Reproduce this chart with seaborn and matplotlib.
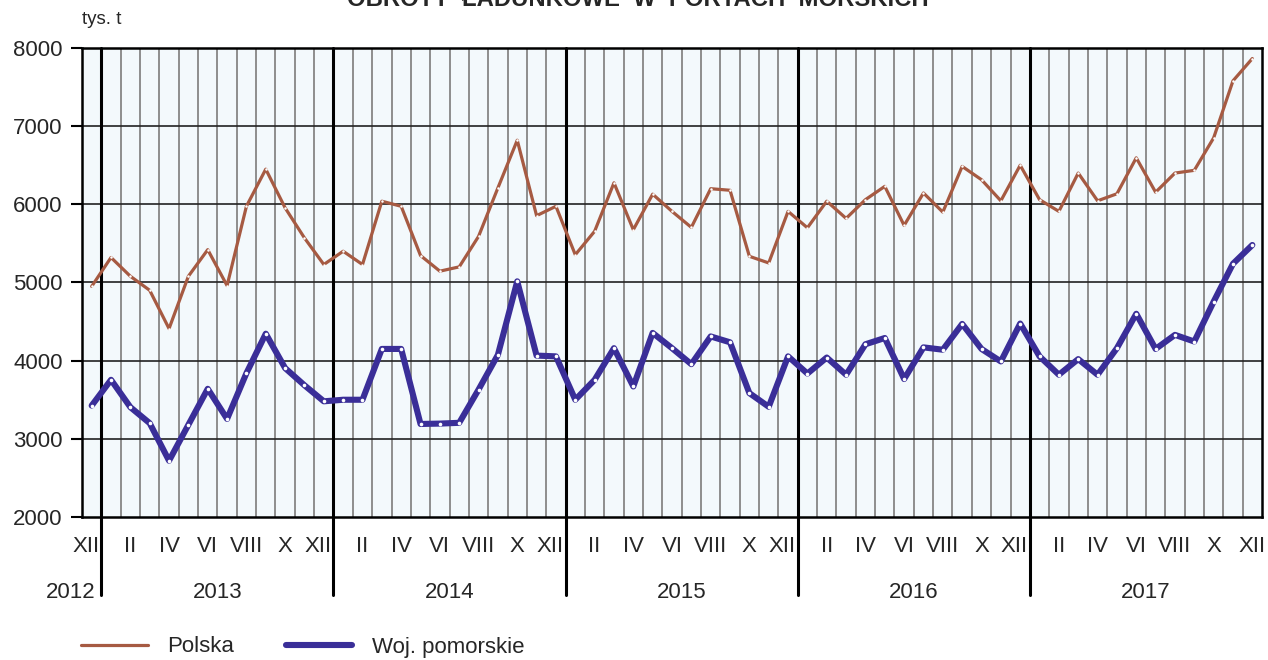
import numpy as np
import pandas as pd
import matplotlib
matplotlib.use("Agg")
import matplotlib.pyplot as plt
import seaborn as sns
from matplotlib.lines import Line2D
from matplotlib.transforms import blended_transform_factory, ScaledTranslation

# ============================
# Data (monthly, XII 2012 - XII 2017, tys. t)
# ============================

polska = [4950, 5320, 5080, 4900, 4410, 5080, 5420, 4960, 5975, 6450, 5955, 5570, 5230,
          5400, 5230, 6040, 5975, 5345, 5145, 5200, 5590, 6210, 6820, 5855, 5975,
          5355, 5655, 6275, 5675, 6130, 5910, 5705, 6200, 6180, 5335, 5250,
          5910, 5700, 6040, 5820, 6060, 6230, 5730, 6145, 5900, 6485, 6315, 6045,
          6500, 6060, 5910, 6400, 6045, 6135, 6595, 6155, 6400, 6435, 6850, 7580, 7865]

pomorskie = [3425, 3755, 3405, 3200, 2720, 3180, 3640, 3255, 3840, 4345, 3905, 3685, 3480,
             3500, 3500, 4150, 4150, 3190, 3195, 3205, 3630, 4075, 5015, 4065, 4055,
             3500, 3755, 4160, 3670, 4355, 4160, 3955, 4310, 4235, 3585, 3410,
             4055, 3835, 4040, 3820, 4210, 4290, 3765, 4170, 4140, 4470, 4150, 3990,
             4475, 4055, 3820, 4020, 3820, 4160, 4600, 4150, 4330, 4245, 4755, 5240, 5480]

roman = ["I", "II", "III", "IV", "V", "VI", "VII", "VIII", "IX", "X", "XI", "XII"]
years = ["2012", "2013", "2014", "2015", "2016", "2017"]
y_ticks = [2000, 3000, 4000, 5000, 6000, 7000, 8000]

series_names = ["Polska", "Woj. pomorskie"]
colors = {"Polska": "#A65A42", "Woj. pomorskie": "#3A2E98"}
widths = {"Polska": 2.3, "Woj. pomorskie": 4.4}
marker_sizes = {"Polska": 1.8, "Woj. pomorskie": 2.6}

title = "OBROTY  ŁADUNKOWE  W  PORTACH  MORSKICH"

# ============================
# Build table
# ============================

n = len(polska)
idx = np.arange(n)
month_no = [(11 + i) % 12 for i in idx]          # 0-based month, first point = XII
year_of = [2012 + (11 + i) // 12 for i in idx]

df = pd.DataFrame({
    "idx": np.concatenate([idx, idx]),
    "value": polska + pomorskie,
    "series": [series_names[0]] * n + [series_names[1]] * n,
})

# ============================
# Plot
# ============================

sns.set_theme(style="white")
plt.rcParams["font.family"] = ["Liberation Sans", "DejaVu Sans"]

fig = plt.figure(figsize=(12.68, 6.60), dpi=100)
ax = fig.add_axes([82 / 1268, 1 - 517 / 660, 1180 / 1268, 469 / 660])
ax.set_facecolor("#F3F9FC")
ax.set_axisbelow(False)

# month grid and year separators
boundaries = [i + 0.5 for i in idx[:-1] if month_no[i] == 11]
for i in idx[:-1]:
    if i + 0.5 not in boundaries:
        ax.axvline(i + 0.5, color="#8e8e8e", lw=1.4, zorder=1)
for b in boundaries:
    ax.axvline(b, ymin=-0.166, ymax=1, color="black", lw=2.2, clip_on=False, zorder=1.2)

for yv in y_ticks[1:-1]:
    ax.axhline(yv, color="#222222", lw=1.2, zorder=1.1)

for name in series_names:
    sub = df[df["series"] == name]
    sns.lineplot(data=sub, x="idx", y="value", ax=ax, color=colors[name], linewidth=widths[name],
                 marker="o", markersize=marker_sizes[name], markerfacecolor="white",
                 markeredgewidth=0, zorder=5, legend=False)

ax.set_xlim(-0.5, n - 0.5)
ax.set_ylim(2000, 8000)
ax.set_yticks(y_ticks)
ax.set_yticklabels([str(v) for v in y_ticks], fontsize=16)
ax.tick_params(axis="y", length=8, width=1.5, color="black", pad=6, direction="out", left=True)

tick_pos = [i for i in idx if month_no[i] % 2 == 1]
ax.set_xticks(tick_pos)
ax.set_xticklabels([roman[month_no[i]] for i in tick_pos], fontsize=16)
ax.tick_params(axis="x", length=0, pad=14)
ax.set_xlabel("")
ax.set_ylabel("")

# nudge the "XII" labels that sit next to a year separator
nudge = ScaledTranslation(-6 / 100, 0, fig.dpi_scale_trans)
for pos, lab in zip(tick_pos, ax.get_xticklabels()):
    if pos + 0.5 in boundaries:
        lab.set_transform(lab.get_transform() + nudge)

for s in ax.spines.values():
    s.set_color("black")
    s.set_linewidth(1.8)

# year labels
trans = blended_transform_factory(ax.transData, ax.transAxes)
for yr in years:
    pos = [i for i in idx if year_of[i] == int(yr)]
    if len(pos) == 1:
        ax.text(pos[0] + 0.2, -0.16, yr, transform=trans, ha="right", va="center", fontsize=16)
    else:
        ax.text(np.mean(pos), -0.16, yr, transform=trans, ha="center", va="center", fontsize=16)

fig.text(82 / 1268, 1 - 20 / 660, "tys. t", ha="left", va="center", fontsize=13.5)
fig.text(0.503, 1 - 6 / 660, title, ha="center", va="baseline", fontsize=17.2, fontweight="bold")

handles = [Line2D([], [], color=colors[nm], lw=widths[nm], solid_capstyle="round") for nm in series_names]
fig.legend(handles, series_names, loc="center left", bbox_to_anchor=(0.048, 1 - 647 / 660),
           ncol=2, frameon=False, fontsize=16, handlelength=3.0, handletextpad=0.9,
           columnspacing=2.3)

fig.savefig("out.png", dpi=100)
